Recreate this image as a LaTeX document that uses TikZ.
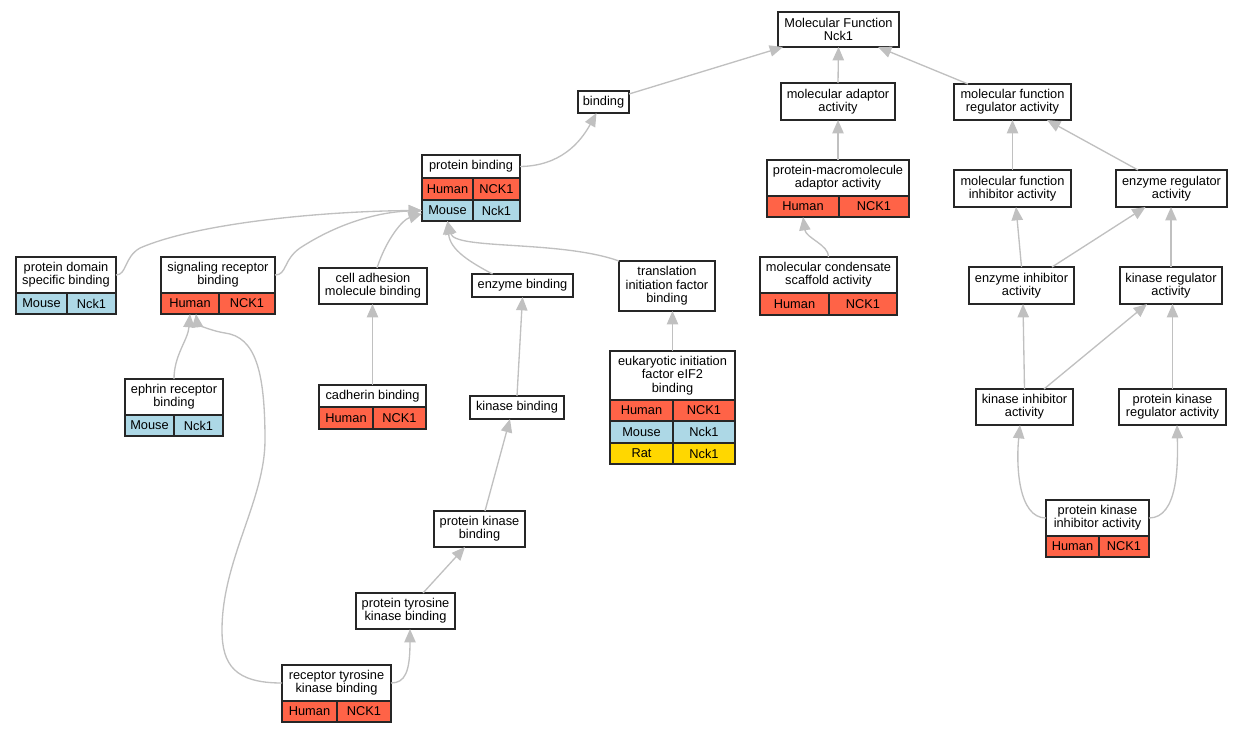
\documentclass[tikz,border=0pt]{standalone}
\usepackage{fontspec}
\setmainfont{Liberation Sans}
\usetikzlibrary{arrows.meta,calc}
\definecolor{human}{HTML}{FF6347}
\definecolor{mouse}{HTML}{ADD8E6}
\definecolor{rat}{HTML}{FFD700}
\definecolor{edgegray}{HTML}{C0C0C0}
\tikzset{
  box/.style={draw=black!85, fill=white, line width=0.9pt, inner sep=0pt, outer sep=0pt, align=center, font=\fontsize{9.6}{10}\selectfont},
  cell/.style={box},
  edge/.style={draw=edgegray, line width=1pt, -{Triangle[length=10pt,width=8.5pt]}}
}
\newcommand{\gobox}[6]{\node[box, minimum width={(#4-#2)*0.75pt}, minimum height={(#5-#3)*0.75pt}] (#1) at ({(#2+#4)/2},{(#3+#5)/2}) {#6};}
\newcommand{\sprow}[9]{%
  \node[cell, fill=#2, minimum width={(#4-#3)*0.75pt}, minimum height={(#7-#6)*0.75pt}] (#1l) at ({(#3+#4)/2},{(#6+#7)/2}) {#8};
  \node[cell, fill=#2, minimum width={(#5-#4)*0.75pt}, minimum height={(#7-#6)*0.75pt}] (#1r) at ({(#4+#5)/2},{(#6+#7)/2}) {#9};}

\begin{document}
\begin{tikzpicture}[x=0.75pt,y=-0.75pt]
    \useasboundingbox (0,0) rectangle (1241,733);
    \gobox{mf}{778}{12}{899}{47}{Molecular Function\\Nck1}
    \gobox{bind}{578}{91}{629}{113}{binding}
    \gobox{mad}{781}{83}{895}{120}{molecular adaptor\\activity}
    \gobox{mfr}{954}{84}{1071}{120}{molecular function\\regulator activity}
    \gobox{pb}{422}{155}{520}{178}{protein binding}
    \sprow{pbA}{human}{422}{473}{520}{178}{200}{Human}{NCK1}
    \sprow{pbB}{mouse}{422}{473}{520}{200}{221}{Mouse}{Nck1}
    \gobox{pma}{767}{160}{909}{196}{protein-macromolecule\\adaptor activity}
    \sprow{pmaA}{human}{767}{839}{909}{196}{217}{Human}{NCK1}
    \gobox{mfi}{954}{170}{1071}{207}{molecular function\\inhibitor activity}
    \gobox{enr}{1116}{170}{1227}{207}{enzyme regulator\\activity}
    \gobox{pds}{16}{257}{116}{293}{protein domain\\specific binding}
    \sprow{pdsA}{mouse}{16}{67}{116}{293}{314}{Mouse}{Nck1}
    \gobox{srb}{161}{257}{275}{293}{signaling receptor\\binding}
    \sprow{srbA}{human}{161}{219}{275}{293}{314}{Human}{NCK1}
    \gobox{cam}{319}{268}{427}{304}{cell adhesion\\molecule binding}
    \gobox{enb}{472}{274}{573}{297}{enzyme binding}
    \gobox{tif}{619}{261}{715}{311}{translation\\initiation factor\\binding}
    \gobox{mcs}{760}{257}{897}{293}{molecular condensate\\scaffold activity}
    \sprow{mcsA}{human}{760}{829}{897}{293}{315}{Human}{NCK1}
    \gobox{eni}{969}{267}{1074}{304}{enzyme inhibitor\\activity}
    \gobox{kre}{1120}{267}{1222}{304}{kinase regulator\\activity}
    \gobox{erb}{125}{379}{223}{415}{ephrin receptor\\binding}
    \sprow{erbA}{mouse}{125}{174}{223}{415}{436}{Mouse}{Nck1}
    \gobox{cdb}{319}{385}{426}{407}{cadherin binding}
    \sprow{cdbA}{human}{319}{373}{426}{407}{429}{Human}{NCK1}
    \gobox{kib}{470}{396}{564}{419}{kinase binding}
    \gobox{eif}{610}{351}{735}{400}{eukaryotic initiation\\factor eIF2\\binding}
    \sprow{eifA}{human}{610}{673}{735}{400}{421}{Human}{NCK1}
    \sprow{eifB}{mouse}{610}{673}{735}{421}{443}{Mouse}{Nck1}
    \sprow{eifC}{rat}{610}{673}{735}{443}{464}{Rat}{Nck1}
    \gobox{kia}{976}{389}{1073}{425}{kinase inhibitor\\activity}
    \gobox{pkr}{1119}{389}{1226}{425}{protein kinase\\regulator activity}
    \gobox{pki}{1046}{500}{1149}{536}{protein kinase\\inhibitor activity}
    \sprow{pkiA}{human}{1046}{1099}{1149}{536}{557}{Human}{NCK1}
    \gobox{pkb}{434}{511}{525}{547}{protein kinase\\binding}
    \gobox{ptk}{356}{593}{455}{629}{protein tyrosine\\kinase binding}
    \gobox{rtk}{282}{665}{391}{701}{receptor tyrosine\\kinase binding}
    \sprow{rtkA}{human}{282}{337}{391}{701}{722}{Human}{NCK1}

    \draw[edge] ($(bind.north east)+(0,3)$) -- ($(mf.south west)+(5,0)$);
    \draw[edge] (mad.north) -- (mf.south);
    \draw[edge] ($(mfr.north west)+(14,0)$) -- ($(mf.south east)+(-21,0)$);
    \draw[edge] (pb.east) .. controls (560,166) and (580,143) .. ($(bind.south)+(-7,0)$);
    \draw[edge] (pma.north) -- (mad.south);
    \draw[edge] (mcs.north) .. controls (829,245) and (806,238) .. (pmaAl.south);
    \draw[edge] (mfi.north) -- (mfr.south);
    \draw[edge] ($(enr.north west)+(22,0)$) -- ($(mfr.south east)+(-24,0)$);
    \draw[edge] (eni.north) -- ($(mfi.south)+(3.5,0)$);
    \draw[edge] ($(eni.north east)+(-22,0)$) -- ($(enr.south)+(-26,0)$);
    \draw[edge] (kre.north) -- (kre.north |- enr.south);
    \draw[edge] (kia.north) -- ($(eni.south)+(1.5,0)$);
    \draw[edge] ($(kia.north east)+(-29,0)$) -- ($(kre.south)+(-24,0)$);
    \draw[edge] (pkr.north) -- (pkr.north |- kre.south);
    \draw[edge] (pki.west) .. controls (1018,518) and (1016,465) .. ($(kia.south)+(-4.5,0)$);
    \draw[edge] (pki.east) .. controls (1178,518) and (1178,465) .. ($(pkr.south)+(4.5,0)$);
    \draw[edge] (pds.east) .. controls (127,275) and (124,257) .. (140,248) .. controls (200,222) and (330,211) .. (pbBl.west);
    \draw[edge] (srb.east) .. controls (287,275) and (283,260) .. (300,248) .. controls (340,222) and (380,212) .. (pbBl.west);
    \draw[edge] ($(cam.north)+(4,0)$) .. controls (386,240) and (402,220) .. ($(pbBl.west)+(0,3)$);
    \draw[edge] ($(enb.north)+(-30,0)$) .. controls (470,262) and (450,250) .. (pbBl.south);
    \draw[edge] (tif.north west) .. controls (560,240) and (455,250) .. (pbBl.south);
    \draw[edge] (erb.north) .. controls (174,355) and (188,340) .. (srbAl.south);
    \draw[edge] (rtk.west) .. controls (235,683) and (222,665) .. (222,630) .. controls (222,560) and (265,500) .. (265,440) .. controls (265,370) and (255,337) .. (225,333) .. controls (207,330) and (197,323) .. ($(srbAl.south)+(6,0)$);
    \draw[edge] (cdb.north) -- (cdb.north |- cam.south);
    \draw[edge] (kib.north) -- (enb.south);
    \draw[edge] ($(pkb.north)+(5.5,0)$) -- ($(kib.south)+(-7,0)$);
    \draw[edge] ($(ptk.north)+(17.5,0)$) -- ($(pkb.south)+(-14.5,0)$);
    \draw[edge] (rtk.east) .. controls (405,683) and (410,672) .. ($(ptk.south)+(4.5,0)$);
    \draw[edge] (eif.north) -- (eif.north |- tif.south);
\end{tikzpicture}
\end{document}
